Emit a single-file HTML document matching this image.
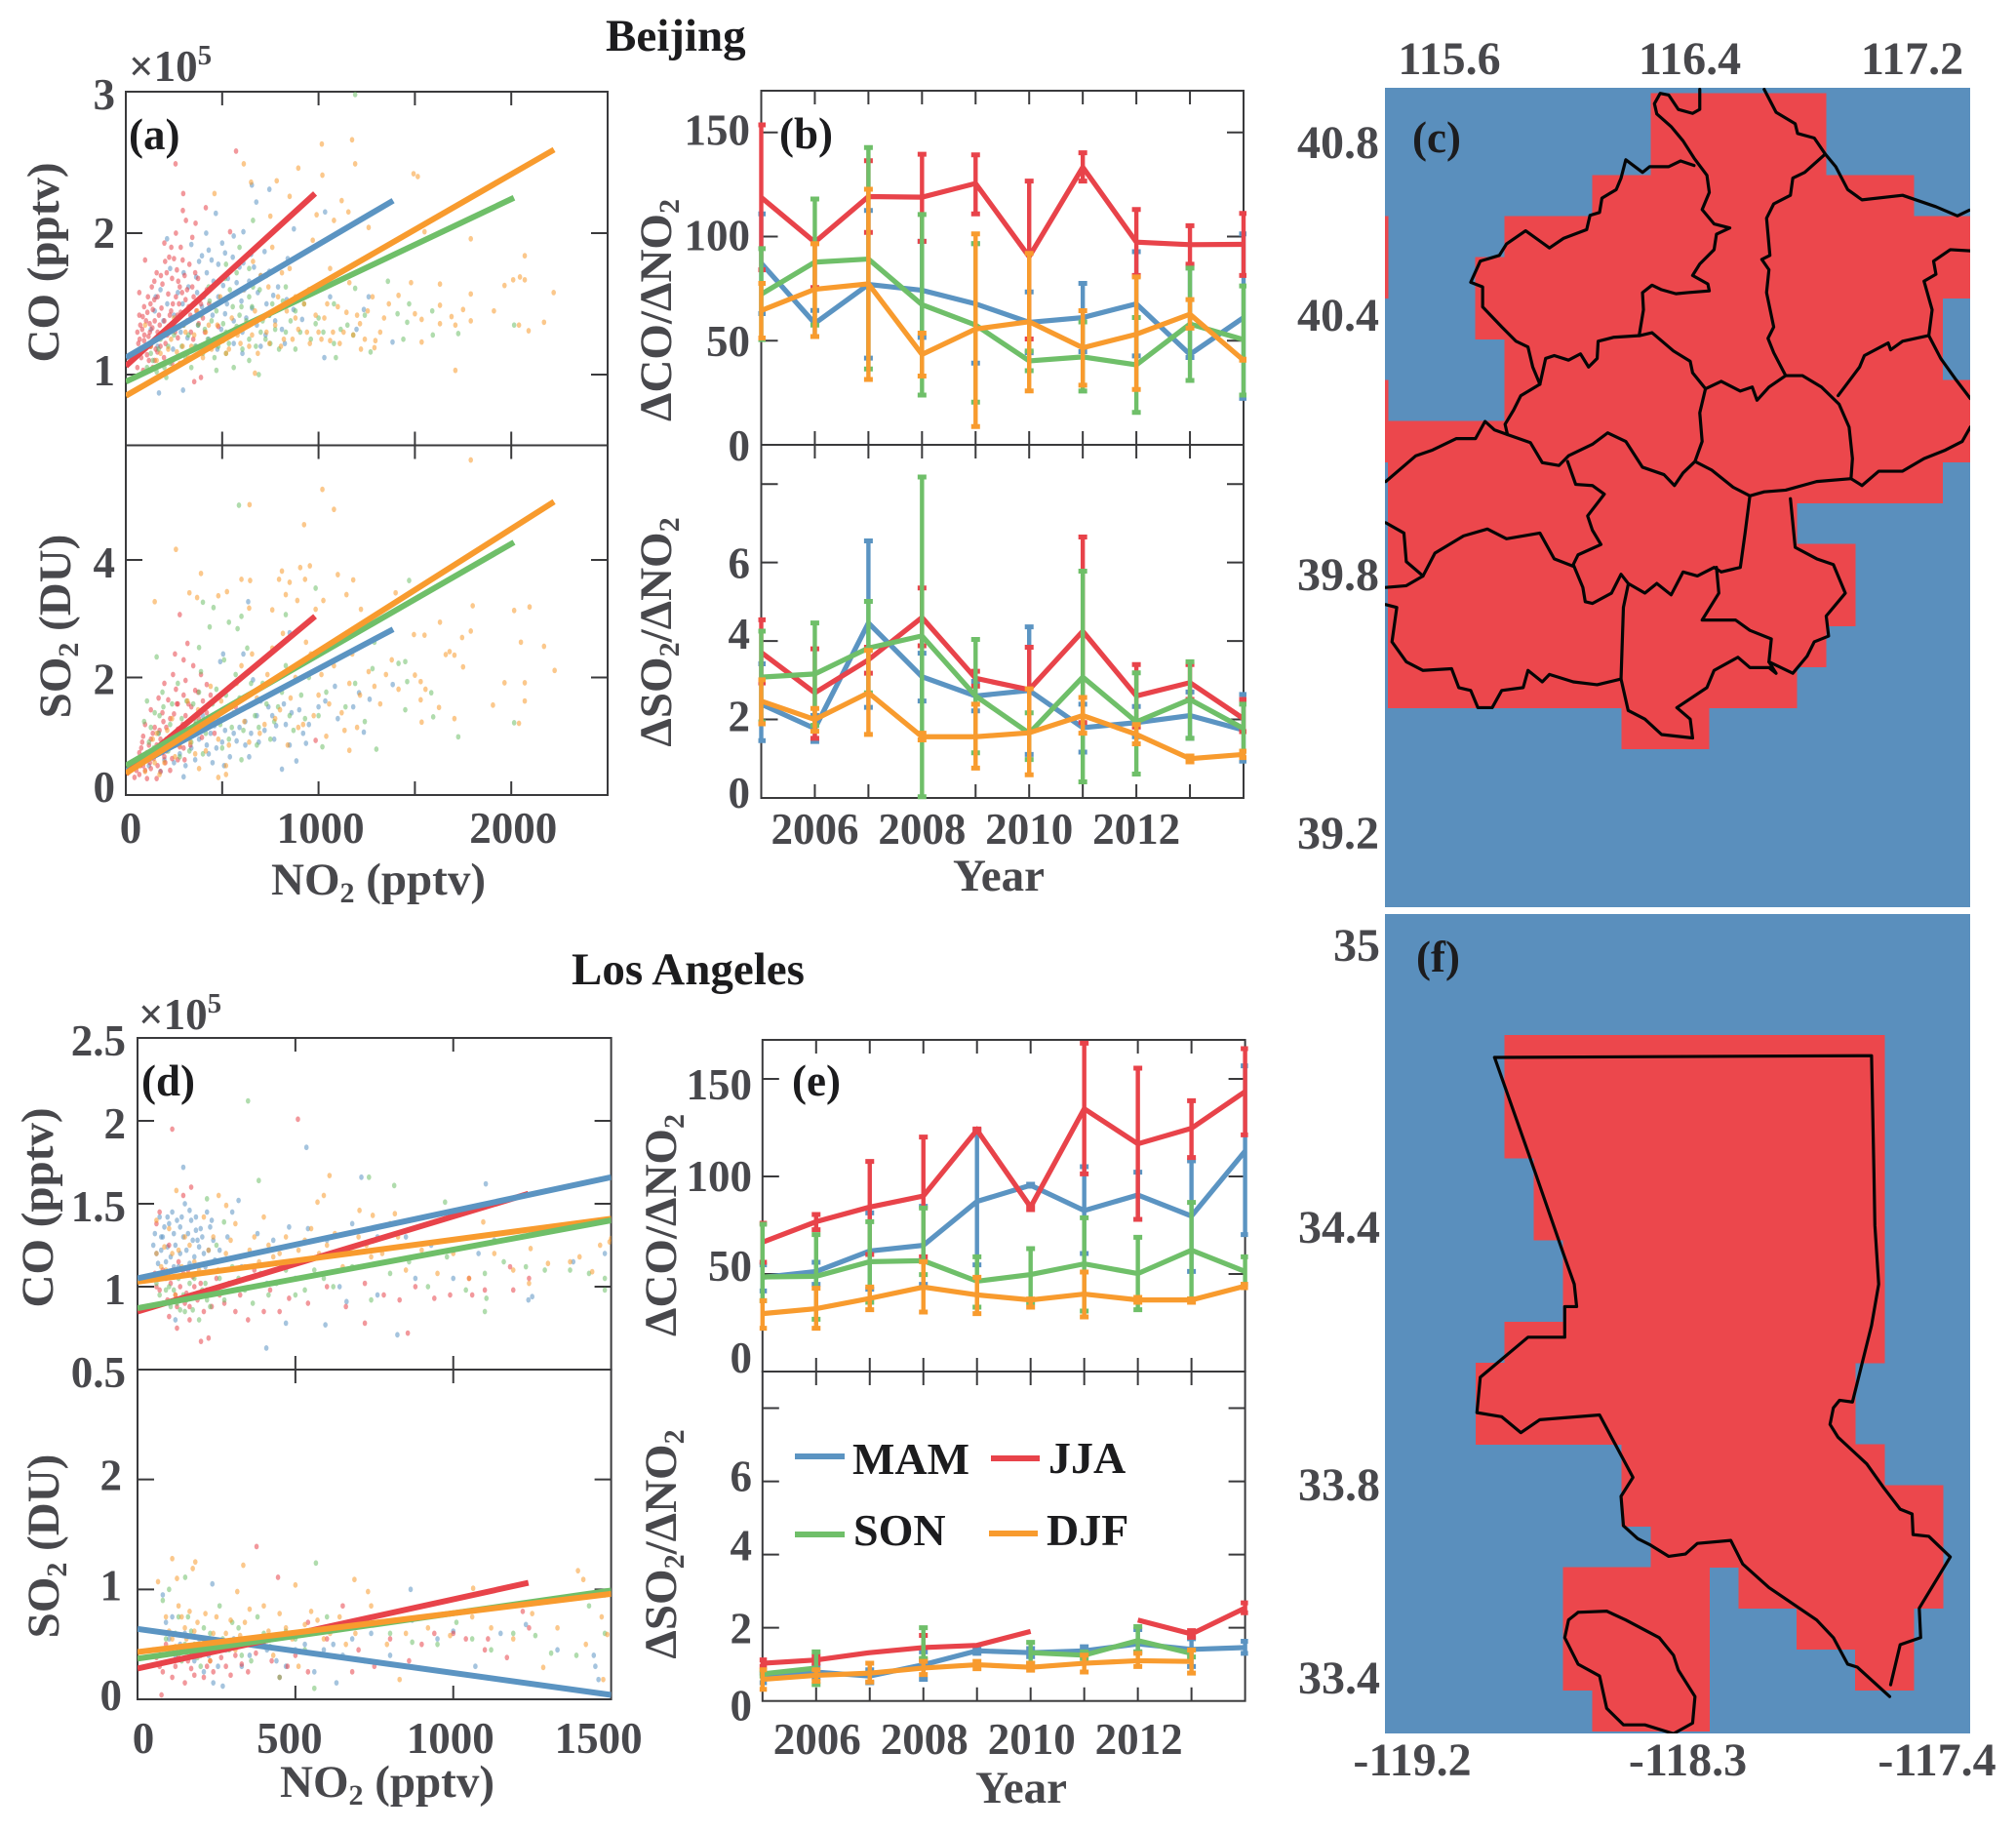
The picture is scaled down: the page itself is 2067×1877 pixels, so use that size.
<!DOCTYPE html>
<html lang="en">
<head>
<meta charset="utf-8">
<title>Beijing and Los Angeles trace gas ratios</title>
<style>
html,body{margin:0;padding:0;background:#fff;}
svg{display:block;}
text{font-family:"Liberation Serif",serif;font-weight:bold;}
.lab{font-size:47px;fill:#48484c;}
.tk{font-size:45px;fill:#48484c;}
.mk{font-size:48px;fill:#48484c;}
.ttl{font-size:47px;fill:#1c1c1e;}
.pl{font-size:45px;fill:#1c1c1e;}
.lg{font-size:46px;fill:#1c1c1e;}
</style>
</head>
<body>
<svg id="chart" xmlns="http://www.w3.org/2000/svg" width="2067" height="1877" viewBox="0 0 2067 1877">
<rect x="0" y="0" width="2067" height="1877" fill="#fff"/>
<g id="plots"></g>

<text class="ttl" x="621" y="52">Beijing</text>
<text class="ttl" x="586" y="1009">Los Angeles</text>

<text class="tk" x="132" y="83">×10<tspan font-size="29" dy="-17">5</tspan></text>
<text class="tk" x="142" y="1055">×10<tspan font-size="29" dy="-17">5</tspan></text>

<text class="pl" x="132" y="153">(a)</text>
<text class="pl" x="799" y="152">(b)</text>
<text class="pl" x="1448" y="156">(c)</text>
<text class="pl" x="145" y="1123">(d)</text>
<text class="pl" x="812" y="1123">(e)</text>
<text class="pl" x="1452" y="996">(f)</text>

<text class="lab" text-anchor="middle" transform="translate(60,269) rotate(-90)">CO (pptv)</text>
<text class="lab" text-anchor="middle" transform="translate(72,642) rotate(-90)">SO<tspan dy="8" font-size="30">2</tspan><tspan dy="-8"> (DU)</tspan></text>
<text class="lab" text-anchor="middle" x="388" y="917">NO<tspan dy="8" font-size="30">2</tspan><tspan dy="-8"> (pptv)</tspan></text>
<text class="lab" text-anchor="middle" transform="translate(688,318) rotate(-90)">ΔCO/ΔNO<tspan dy="8" font-size="30">2</tspan></text>
<text class="lab" text-anchor="middle" transform="translate(688,648) rotate(-90)">ΔSO<tspan dy="8" font-size="30">2</tspan><tspan dy="-8">/ΔNO</tspan><tspan dy="8" font-size="30">2</tspan></text>
<text class="lab" text-anchor="middle" x="1024" y="913">Year</text>

<text class="lab" text-anchor="middle" transform="translate(54,1238) rotate(-90)">CO (pptv)</text>
<text class="lab" text-anchor="middle" transform="translate(60,1585) rotate(-90)">SO<tspan dy="8" font-size="30">2</tspan><tspan dy="-8"> (DU)</tspan></text>
<text class="lab" text-anchor="middle" x="397" y="1842">NO<tspan dy="8" font-size="30">2</tspan><tspan dy="-8"> (pptv)</tspan></text>
<text class="lab" text-anchor="middle" transform="translate(693,1256) rotate(-90)">ΔCO/ΔNO<tspan dy="8" font-size="30">2</tspan></text>
<text class="lab" text-anchor="middle" transform="translate(693,1583) rotate(-90)">ΔSO<tspan dy="8" font-size="30">2</tspan><tspan dy="-8">/ΔNO</tspan><tspan dy="8" font-size="30">2</tspan></text>
<text class="lab" text-anchor="middle" x="1047" y="1848">Year</text>

<g id="legend">
<g><rect x="815" y="1490" width="51" height="6" fill="#5b94c2"/><text class="lg" x="874" y="1511">MAM</text></g>
<g><rect x="1016" y="1492" width="50" height="6" fill="#e8434a"/><text class="lg" x="1075" y="1510">JJA</text></g>
<g><rect x="815" y="1570" width="51" height="6" fill="#6fbf69"/><text class="lg" x="875" y="1584">SON</text></g>
<g><rect x="1014" y="1569" width="50" height="6" fill="#f89b2e"/><text class="lg" x="1073" y="1584">DJF</text></g>
</g>
</svg>
<script>
const seasons = ['MAM','JJA','SON','DJF'];
const seasonColors = ['#5b94c2','#e8434a','#6fbf69','#f89b2e'];
const years = [2005,2006,2007,2008,2009,2010,2011,2012,2013,2014];

/* ---------- scatter panels: flat x,y lists per season ---------- */
const aCoMam = [654,2.34,745,2.31,677,2.22,467,2.14,1034,2.15,872,2.03,610,2.01,417,2,214,1.96,1030,1.12,297,.89,172,.87,1384,1.23,1197,1.32,1235,1.46,1260,1.55,560,1.98,500,1.93,430,1.88,720,1.87,650,1.85,840,1.82,380,1.8,480,1.78,590,1.76,230,1.75,300,1.72,420,1.72,700,1.7,530,1.68,640,1.66,790,1.62,950,1.58,1060,1.55,180,1.6,270,1.58,370,1.58,480,1.55,600,1.52,730,1.5,870,1.46,150,1.45,250,1.42,340,1.4,450,1.42,560,1.38,680,1.35,810,1.32,200,1.28,320,1.26,430,1.25,560,1.22,700,1.2,130,1.32,
340,1.92,395,1.84,445,1.81,515,1.86,555,1.83,610,1.79,665,1.76,745,1.73,365,1.69,455,1.66,505,1.63,575,1.65,615,1.6,685,1.58,765,1.56,835,1.53,325,1.62,405,1.55,525,1.5,655,1.47,745,1.42,915,1.39,295,1.5,395,1.48,515,1.43,625,1.4,775,1.38,155,1.55,215,1.5,285,1.3,375,1.35,495,1.32,605,1.3,725,1.28,825,1.22,165,1.2,245,1.18,365,1.2,475,1.18,605,1.15,125,1.2,195,1.38];
const aCoJja = [572,2.58,258,2.49,298,2.28,415,2.18,296,2.16,312,2.09,362,2.07,260,2,541,2.01,345,1.97,200,1.93,285,1.9,100,1.81,225,1.83,250,1.82,295,1.81,330,1.78,160,1.72,265,1.74,240,1.68,305,1.7,375,1.68,135,1.62,190,1.64,280,1.62,345,1.62,420,1.6,70,1.58,115,1.55,165,1.55,220,1.57,260,1.55,310,1.53,390,1.5,455,1.48,95,1.48,140,1.46,185,1.47,235,1.45,285,1.44,335,1.42,400,1.4,70,1.42,105,1.38,150,1.38,200,1.38,250,1.36,300,1.35,480,1.34,60,1.3,85,1.32,125,1.3,165,1.3,215,1.28,270,1.26,350,1.25,65,1.22,95,1.24,130,1.2,180,1.2,55,1.15,80,1.12,110,1.14,150,1.1,240,1.08,60,1.05,90,1.03,355,.95,390,.98,
75,1.35,88,1.41,96,1.28,72,1.25,84,1.18,102,1.2,118,1.27,124,1.36,138,1.33,146,1.24,155,1.18,112,1.44,128,1.5,148,1.53,172,1.42,176,1.35,192,1.3,206,1.22,222,1.34,228,1.42,244,1.5,256,1.3,268,1.42,276,1.5,292,1.58,302,1.44,318,1.38,326,1.48,338,1.3,352,1.55,366,1.45,378,1.36,410,1.3,432,1.5,212,1.72,182,1.7,148,1.66,272,1.66,318,1.6,360,1.72,204,1.8,236,1.9,120,1.1,140,1.05,164,1.16,198,1.12];
const aCoSon = [1190,2.98,660,2.09,2015,1.35,1725,1.29,1593,1.28,1440,1.25,1590,1.45,1470,1.5,1410,1.43,1460,1.37,1190,1.61,1360,1.66,1090,1.12,1270,1.16,690,1,470,1.03,210,.98,590,1.9,520,1.78,640,1.75,730,1.7,830,1.62,950,1.6,1080,1.5,1240,1.42,1150,1.35,1000,1.4,880,1.45,760,1.5,640,1.55,540,1.6,430,1.62,350,1.5,470,1.45,590,1.42,710,1.38,830,1.3,960,1.25,1080,1.22,300,1.35,410,1.32,520,1.3,640,1.25,750,1.22,880,1.18,180,1.25,290,1.2,400,1.15,520,1.15,640,1.1,130,1.15,230,1.08,340,1.05,110,1.05,160,1.02,600,1.48,700,1.3,480,1.2,560,1.05,
140,1.1,170,1.18,200,1.05,220,1.2,250,1.28,265,1.12,310,1.12,325,1.28,360,1.2,375,1.35,390,1.42,425,1.25,445,1.38,460,1.12,495,1.52,505,1.36,535,1.22,555,1.48,575,1.34,605,1.18,625,1.38,655,1.48,675,1.2,695,1.6,725,1.25,745,1.42,775,1.32,795,1.18,815,1.52,855,1.38,905,1.3,925,1.5,985,1.36,1025,1.3,1115,1.32,1180,1.28,435,1.52,515,1.68,575,1.72,660,1.62];
const aCoDjf = [1174,2.66,1017,2.63,612,2.49,1190,2.49,895,2.46,1020,2.41,1493,2.42,1515,2.4,783,2.37,650,2.36,460,2.28,850,2.26,1120,2.23,1155,2.15,990,2.13,750,2.12,1080,2.09,1260,2.04,1550,2.01,1790,1.96,2070,1.84,1630,1.64,1480,1.65,1965,1.63,2010,1.67,2045,1.69,2070,1.67,2220,1.58,1790,1.57,1910,1.45,1750,1.46,1630,1.49,1690,1.41,1790,1.38,1710,1.35,1630,1.36,2170,1.37,2040,1.35,2090,1.31,1535,1.23,1710,1.03,1500,1.43,1535,1.39,1415,1.56,1365,1.5,1290,1.19,1220,1.18,670,1.01,100,1.35,130,1.2,160,1.1,190,1.28,220,1.18,250,1.4,280,1.08,310,1.3,340,1.2,370,1.45,400,1.12,430,1.35,460,1.25,490,1.55,520,1.15,550,1.4,580,1.28,610,1.6,640,1.2,670,1.45,700,1.7,730,1.3,760,1.9,790,1.55,820,1.25,850,1.75,880,1.4,910,1.85,940,1.3,970,1.95,1000,1.6,1030,1.4,1060,1.75,1100,1.48,1130,1.3,1160,1.65,1200,1.42,1240,1.25,1280,1.55,1320,1.3,
180,1.15,205,1.08,235,1.25,265,1.16,295,1.2,325,1.12,355,1.28,385,1.2,415,1.3,445,1.18,475,1.35,505,1.24,535,1.18,565,1.32,595,1.22,625,1.36,655,1.28,685,1.15,715,1.4,745,1.22,775,1.35,805,1.2,835,1.45,865,1.25,895,1.32,925,1.5,955,1.22,985,1.42,1015,1.25,1045,1.5,1075,1.3,1110,1.22,1145,1.44,1180,1.28,1215,1.36,1255,1.45,1295,1.24,1340,1.4,1060,1.24,1000,1.3,880,1.55,810,1.72,740,1.62,660,1.8];
const aSoMam = [635,3.29,850,2.76,610,2.4,505,2.4,490,2.27,660,1.96,1085,1.85,1210,1.74,1265,1.63,1035,1.6,1385,1.88,1235,1.07,810,.44,885,.58,935,.88,300,.31,550,1.5,480,1.3,620,1.25,700,1.6,760,1.35,830,1.2,560,1.05,440,1.05,380,.95,500,.9,620,.85,340,.8,430,.7,540,.65,280,.7,200,.6,160,.8,230,1,300,1.15,400,1.35,640,1.7,720,1.1,820,1.55,900,1.45,950,1.2,1000,1.5,1100,1.3,1180,1.5,120,.5,180,.4,
260,.85,310,.95,350,1.08,390,1.2,420,.85,460,1.18,515,1.1,470,.8,590,1.15,650,1.05,680,1.35,740,1.5,780,1.18,860,1.4,360,.6,450,.55,510,.5,575,.92,640,.65,690,.9,250,.55,310,.5,170,1.05,210,.8,130,.7,770,.95,850,.85,920,1.05];
const aSoJja = [280,3.07,320,2.58,255,2.4,300,2.3,350,2.2,245,2.05,390,2.05,310,1.95,200,1.9,420,1.88,260,1.8,360,1.78,300,1.7,170,1.65,220,1.62,400,1.6,270,1.55,340,1.5,130,1.45,190,1.4,250,1.38,310,1.35,380,1.3,100,1.2,150,1.15,210,1.15,270,1.12,340,1.05,90,1,130,.95,180,.95,240,.88,300,.8,80,.8,110,.72,150,.7,200,.65,270,.6,60,.6,90,.5,130,.45,180,.4,70,.35,45,.3,110,.28,210,.75,570,1.5,480,1.25,985,.93,
70,.72,85,.9,95,.62,100,.42,120,.85,125,.55,140,1.05,145,.62,160,.85,165,.5,175,1.1,190,.72,195,1.25,205,.55,220,.9,230,1.3,240,.62,255,1.05,265,1.55,280,.82,295,1.2,305,.6,325,1.55,335,.85,360,1.2,375,1.75,395,.98,420,1.4,440,1.7,460,1.05,75,.5,55,.42,160,.28,230,.42];
const aSoSon = [587,4.93,1470,3.65,985,3.52,455,3.19,400,3.28,830,3.07,600,3.04,535,2.94,435,2.86,580,2.83,1290,2.6,160,2.35,380,2.51,1415,2.24,1450,2.27,1585,1.74,1460,1.93,1595,1.33,1725,.99,2015,1.23,1450,1.45,1300,.78,1020,.82,110,1.6,150,1.4,190,1.75,230,1.2,270,1.9,310,1.05,350,1.55,390,2.1,430,1.3,470,1.8,510,2.3,550,1.15,590,1.65,630,2.5,670,1.35,710,1.9,750,.95,790,1.5,830,2.2,870,1.1,910,1.7,950,2,1000,1.35,1040,1.75,1090,2.3,1140,1.5,1190,1.9,1240,1.25,1280,2.15,120,.9,170,1.05,220,.75,280,.65,340,.9,400,.7,500,.8,600,.6,680,.85,
95,1.25,130,1.15,145,.8,175,1.35,195,1.5,210,.95,240,1.55,255,.85,290,1.3,315,1.6,330,.75,365,1.25,380,1.75,415,1.05,450,1.55,490,1.2,520,1.7,535,.95,570,2.05,610,1.1,650,1.9,690,1.15,730,1.55,770,1.25,810,1.75,850,1.35,890,1.95,930,1.3];
const aSoDjf = [1790,5.7,1020,5.2,1080,4.86,925,4.6,642,4.94,260,4.18,390,3.77,810,3.81,905,3.87,955,3.9,600,3.67,645,3.65,795,3.67,930,3.67,1100,3.75,1180,3.66,850,3.62,330,3.44,525,3.46,370,3.36,480,3.39,150,3.29,1145,3.41,1400,3.44,830,3.41,890,3.31,985,3.16,1025,3.31,640,3.18,760,3.15,1220,3.16,1800,3.22,2015,3.14,2095,3.2,1630,2.94,2050,2.6,2170,2.53,1790,2.79,1745,2.68,1550,2.72,1495,2.73,1680,2.44,1660,2.39,1705,2.38,1750,2.18,2225,2.12,2070,1.91,1965,1.91,1905,1.53,2070,1.6,2040,1.22,1705,1.3,1535,1.24,1625,1.49,1500,2.04,1530,1.93,1555,1.8,1530,1.62,1415,1.8,1160,.76,120,.7,160,1.05,200,.55,240,1.3,280,.85,320,1.6,360,.7,400,1.15,440,1.85,480,.95,520,.5,560,1.4,600,2.2,640,.9,680,1.65,720,1.2,760,2.5,800,1.45,840,.85,880,2,920,1.2,960,2.4,1000,1.7,1040,1,1080,2.2,1120,1.4,1160,1.9,1200,1.15,1260,2.1,1320,1.55,1380,2.3,380,.45,480,.3,520,.35,
140,.95,180,.75,215,1.1,255,.65,295,1.05,335,.9,375,1.45,415,.75,455,1.25,495,1.6,535,.85,575,1.9,615,1.25,655,2.4,695,1.05,735,2.05,775,1.3,815,2.75,855,1.65,895,1.15,935,2.6,975,1.35,1015,2.05,1055,1.55,1095,2.65,1135,1.1,1175,2.4,1215,1.7,1290,1.85,1350,2.05,150,.55,175,.35,100,.4];
const dCoMam = [535,1.84,145,1.72,709,1.66,1103,1.62,408,.63,823,.71,595,.77,1238,.92,1250,.94,662,.91,470,.78,60,1.2,80,1.3,100,1.38,120,1.25,140,1.42,160,1.32,180,1.18,200,1.35,220,1.45,240,1.28,90,1.15,110,1.45,130,1.12,150,1.5,170,1.4,190,1.28,210,1.2,70,1.42,50,1.25,230,1.36,260,1.22,300,1.45,320,1.52,380,1.32,430,1.28,480,1.36,540,1.35,600,1.28,680,1.38,760,1.3,850,1.3,930,1.25,1000,1.22,1080,1.2,1130,1.28,330,1.12,410,1.02,500,1.05,640,1,760,.95,880,1.05,1000,1.05,1380,1.15,1480,1.2,60,1.05,100,.9,120,.8,
55,1.32,65,1.14,75,1.22,85,1.36,95,1.24,105,1.18,115,1.32,125,1.4,135,1.2,145,1.3,155,1.22,165,1.14,175,1.28,185,1.42,195,1.24,205,1.3,215,1.12,225,1.22,235,1.4,95,1.42,75,1.3,135,1.36,165,1.46,185,1.34,245,1.16,285,1.3,115,1.12];
const dCoJja = [508,2.01,110,1.95,170,1.6,145,1.55,70,1.45,60,1.38,100,1.25,130,1.15,160,1.1,60,1,90,1.05,120,.95,150,.9,180,1,210,.85,100,.82,125,.75,165,.8,201,.67,225,.69,856,.72,260,.95,290,1.02,310,.85,350,.8,370,1.1,420,.98,480,.93,540,.9,600,1,660,.88,720,1.02,780,.95,830,.92,880,1,940,.93,990,.95,1050,1.05,1100,.98,1190,.98,1240,1.05,1180,1.12,1060,.95,720,.78,400,.85,
55,1.08,70,.98,80,1.1,95,.92,105,1.02,115,1.1,125,.88,135,1,145,1.08,155,.96,165,.88,175,1.06,190,.92,200,1.02,220,.98,235,.88,250,1.05,275,.9,325,.95,450,.85];
const dCoSon = [350,2.12,384,1.64,733,1.66,813,1.61,974,1.51,274,1.39,220,1.53,100,1,125,.9,150,.85,170,.95,195,.8,220,.92,80,.9,60,1.02,260,1.05,300,1.12,340,.98,390,1.08,440,1.02,500,.95,560,1.1,620,1,680,1.12,740,.92,800,1.08,860,1.15,920,1,980,1.18,1040,.98,1100,1.08,1160,1.15,1230,1.12,1290,1.1,1370,1.1,1430,1.08,1480,1.05,1480,.98,1100,.85,1105,.93,250,1.25,130,1.05,180,1.05,
70,.95,90,.98,105,.88,115,.98,135,.86,145,.95,155,.92,165,1.02,175,.86,185,.95,205,.98,215,1.02,230,.88,245,.98,275,.92,320,1.05,365,.9,415,.95,470,1.1,530,.98,590,1.05];
const dCoDjf = [123,1.58,257,1.55,281,1.49,608,1.67,590,1.55,703,1.46,745,1.43,815,1.44,570,1.51,1095,1.39,1245,1.23,1300,1.14,1370,1.15,1400,1.18,1465,1.25,1495,1.27,1500,1.29,1440,1.09,60,1.4,150,1.3,180,1.15,210,1.42,240,1.3,280,1.2,310,1.38,340,1.12,370,1.3,400,1.42,430,1.18,470,1.3,510,1.22,550,1.35,600,1.25,650,1.12,700,1.3,740,1.18,800,1.38,850,1.1,900,1.22,950,1.08,1000,1.2,1050,1.05,1130,1.2,1190,1.1,1240,1.02,60,1.2,90,1.1,130,1.22,100,1.35,120,.95,
75,1.12,85,1.24,110,1.2,140,1.12,165,1.25,195,1.1,225,1.22,255,1.1,295,1.28,325,1.18,355,1.22,385,1.15,415,1.25,450,1.2,490,1.15,530,1.28,575,1.2,625,1.32,675,1.2,725,1.25,775,1.2,825,1.3,875,1.18];
const dSoMam = [237,1.05,865,1,80,.95,90,.7,100,.55,120,.4,150,.6,180,.35,210,.25,240,.15,280,.45,330,.3,380,.55,440,.35,500,.45,560,.25,620,.5,680,.55,740,.6,800,.4,870,.72,950,.55,1000,.62,1070,.3,1150,.6,1230,.68,1330,.45,1445,.4,1450,.3,1460,.18,270,.12,630,.15,
70,.45,110,.75,135,.5,165,.45,195,.55,225,.4,255,.3,305,.55,355,.4,410,.45,470,.3,530,.5,590,.45,650,.4];
const dSoJja = [377,1.39,445,1.11,50,.45,70,.3,90,.5,110,.2,130,.38,150,.15,170,.28,190,.42,210,.2,230,.35,250,.45,280,.3,310,.4,350,.25,400,.5,450,.2,500,.4,540,.7,600,.55,650,.85,700,.45,750,.3,800,.55,860,.35,900,.5,940,.6,1000,.6,1040,.55,1100,.45,1170,.38,1220,.8,1240,.65,1110,.55,76,.04,540,.25,680,.25,
60,.38,80,.25,100,.42,120,.3,140,.45,160,.35,180,.22,200,.4,220,.3,240,.25,265,.38,295,.22,330,.32,375,.42,425,.35,475,.3];
const dSoSon = [565,1.24,151,1.11,80,.9,100,1,120,.6,140,.35,160,.75,180,.5,200,.3,230,.6,260,.85,290,.45,320,.65,360,.35,400,.6,450,.2,500,.55,560,.1,600,.75,660,.65,720,.35,800,.6,870,.52,950,.5,1010,.7,1060,.55,1120,.45,1190,.6,1260,.58,1310,.42,1390,.4,1430,.85,1480,.6,1480,.95,
90,.55,110,.42,130,.75,150,.5,170,.62,190,.38,210,.65,240,.48,270,.55,300,.7,330,.4,380,.75,420,.48,470,.62,530,.45];
const dSoDjf = [110,1.28,183,1.25,335,1.22,175,1.19,125,1.1,65,1.07,316,.98,500,1.04,687,1.09,730,.98,1063,1.01,1395,1.17,1412,1.09,1475,.18,1285,.29,830,.18,1488,.59,90,.75,110,.55,130,.85,150,.65,170,.4,190,.7,210,.55,230,.35,250,.75,280,.6,310,.45,340,.7,370,.55,400,.85,430,.4,470,.65,510,.3,550,.8,590,.55,640,.75,690,.6,740,.85,790,.5,850,.6,920,.65,990,.58,1060,.75,1120,.65,1190,.55,1250,.78,1330,.65,1420,.5,1470,.75,
100,.62,120,.48,140,.75,155,.55,165,.8,180,.62,200,.48,215,.78,240,.6,260,.5,295,.72,325,.58,355,.82,385,.5,415,.62,450,.78,490,.55,530,.68,570,.72,610,.6,660,.5];

/* ---------- regression lines: value at x=0, end x, value at end x ---------- */
const aFitXEnd = [1387,982,2014,2222];
const aCoFitStart = [1.12,1.06,.95,.85];
const aCoFitEnd = [2.23,2.28,2.25,2.59];
const aSoFitStart = [.41,.36,.5,.37];
const aSoFitEnd = [2.82,3.04,4.3,4.99];
const dFitXEnd = [1500,1238,1500,1500];
const dCoFitStart = [1.05,.85,.87,1.03];
const dCoFitEnd = [1.66,1.56,1.4,1.41];
const dSoFitStart = [.64,.28,.37,.43];
const dSoFitEnd = [.04,1.06,.99,.96];

/* ---------- yearly ratios (one row per season) ---------- */
const bCoMean = [[87.2,58.3,77,74.2,67.7,58.8,61.1,67.7,43.4,61.1],[118.75,97.3,119.2,118.9,125.5,90.3,133.3,97.3,96.1,96.25],[72.3,87.7,89.2,67.3,57.5,40.3,42.2,38.4,58,50.5],[64.5,74.7,77.3,43.4,55.6,59.1,46.6,53.1,62.7,40.6]];
const bCoHigh = [[110.9,64.5,112.5,97.7,96.6,73.4,77.5,92.7,85.6,101.3],[153.6,96.6,136.4,139.5,139.2,126.6,140.2,113,105.2,111.1],[94.2,118,142.7,110.6,96.6,45,59,61.1,84.8,76.3],[77.5,96.6,122.7,53.6,101.3,91.9,64.4,80.6,69.7,41.1]];
const bCoLow = [[63,52,41.6,51.6,39.2,44.2,44.7,42.7,41.9,22.3],[84,75.5,102,97.7,110.9,50.8,126.6,81.3,86.7,81.3],[50.5,57.5,36.4,23.9,20.5,35.6,25.8,15.6,30.9,23.9],[51.3,52,31.4,33,8.8,25.9,28.6,26.6,56,40.6]];
const bSoMean = [[2.39,1.77,4.46,3.09,2.6,2.74,1.79,1.92,2.1,1.73],[3.71,2.68,3.52,4.6,3.05,2.76,4.25,2.6,2.94,2.02],[3.08,3.16,3.82,4.13,2.6,1.65,3.08,1.94,2.51,1.77],[2.47,2,2.68,1.56,1.56,1.66,2.1,1.62,1,1.11]];
const bSoHigh = [[3.42,2.1,6.55,3.69,2.97,4.36,2.39,2.33,2.7,2.64],[4.54,3.8,3.84,5.35,3.23,3.84,6.65,3.4,3.4,2.51],[4.25,4.46,5.01,8.18,4.04,2.17,5.78,3.19,3.47,2.39],[3.01,2.28,3.76,1.65,2.39,2.78,2.56,1.87,1.07,1.19]];
const bSoLow = [[1.46,1.44,2.31,2.47,2.22,1.11,1.17,1.56,1.52,.94],[2.93,1.52,3.18,3.88,2.85,1.69,1.92,1.81,2.51,1.69],[1.94,1.85,2.68,.03,1.15,.98,.41,.61,1.52,1.19],[1.89,1.7,1.62,1.48,.76,.59,1.65,1.38,.92,1.03]];
const eCoMean = [[48.3,51.3,61.8,64.7,87.2,95.5,82.5,90.5,79.7,113],[66.3,76.8,84.3,90,123.8,84.3,134.7,116.7,124.7,143.5],[48.5,48.8,56.3,56.8,46.3,49.7,55.2,50.2,62.2,51.3],[29.7,32.2,37.5,43.3,39.3,36.7,39.7,36.7,36.7,43.8]];
const eCoHigh = [[54.7,56,81.3,84.7,123.8,96,105,102.2,108,156.7],[76,80.5,107.7,120.2,124.3,85.5,168.3,155.5,138.8,165.5],[75.5,70.2,76.8,83.8,58.8,63,78.8,68.8,86.7,58.8],[36.3,42.7,43.3,56.3,48.3,37.2,51,38,37.2,44.7]];
const eCoLow = [[41.3,44.7,42.2,44.7,54.7,95,60.5,78,51.3,70.2],[56,72.7,60,58.8,123,83,101.3,78,109.7,121.3],[36.3,26.8,35.5,49.7,33,35.5,31,31.7,37.2,44.7],[22.2,22.2,31.7,30.5,29.7,33,28,35.5,35.5,43]];
const eSoMean = [[.63,.79,.68,.99,1.37,1.32,1.37,1.56,1.41,1.46],[1.03,1.12,1.32,1.46,1.52,1.9,null,2.21,1.83,2.54],[.74,.9,null,1.43,null,1.32,1.25,1.65,1.3,null],[.59,.7,.76,.9,.99,.92,1.03,1.1,1.08,null]];
const eSoHigh = [[.76,.94,.85,1.34,1.43,1.43,1.48,1.95,1.7,1.63],[1.12,1.22,null,1.79,null,null,null,null,1.92,2.68],[.82,1.34,null,2,null,1.6,1.34,2.03,1.39,null],[.85,.85,1.03,1.08,1.08,1.03,1.25,1.3,1.39,null]];
const eSoLow = [[.5,.63,.5,.59,1.3,1.21,1.25,1.34,.94,1.3],[.94,1.03,null,1.12,null,null,null,null,1.74,2.41],[.68,.45,null,1.16,null,1.03,1.16,1.34,1.2,null],[.32,.54,.52,.72,.88,.84,.79,.94,.76,null]];

/* ---------- tick labels ---------- */
const aCoTicks = [1,2,3];
const aSoTicks = [0,2,4];
const aXTicks = [500,1000,1500,2000];
const aXLabels = [0,1000,2000];
const ratioCoTicks = [0,50,100,150];
const ratioSoTicks = [0,2,4,6,8];
const ratioSoLabels = [0,2,4,6];
const yearTicks = [2006,2007,2008,2009,2010,2011,2012,2013];
const yearLabels = [2006,2008,2010,2012];
const dCoTicks = [.5,1,1.5,2,2.5];
const dCoLabels = ['0.5','1','1.5','2','2.5'];
const dSoTicks = [0,1,2];
const dXTicks = [500,1000];
const dXLabels = [0,500,1000,1500];
const cTopLabels = ['115.6','116.4','117.2'];
const cLeftLabels = ['40.8','40.4','39.8','39.2'];
const fLeftLabels = ['35','34.4','33.8','33.4'];
const fBottomLabels = ['-119.2','-118.3','-117.4'];

/* ---------- map grids: # = inside the city mask ---------- */
const cGridRows = [
"..........######.....",
"..........######.....",
"........###########..",
"#....################",
"#...#################",
"....################.",
".....###############.",
"#....################",
"#####################",
".###################.",
".##############......",
".################....",
".################....",
".###############.....",
".##############......",
".........###........."];
const fGridRows = [
".#############..",
".#############..",
".#############..",
"..############..",
"..############..",
"...###########..",
"...###########..",
".#############..",
"#############...",
"#############...",
".....#########..",
".....###########",
"......##########",
"...#####.#######",
"...#####...####.",
"...#####.....##.",
"....####........"];

/* ---------- map outlines, traced in image units ---------- */
const cBorderTraces = [
[905,105,905,140,890,147,860,140,840,115,822,112,810,130,815,148,845,170,870,195,893,225,920,255,925,285,910,315,935,340,968,347,940,358,935,385,905,410,890,430,922,445,925,457,880,460,855,462,825,455,805,447,785,460,787,490,778,535],
[893,238,865,230,840,240,800,240,785,250,750,228,740,260,730,280,700,295,695,320,675,325,668,350,620,365,590,382,570,370,540,352,500,375,485,395,445,405,425,442,450,450,450,485,490,520,520,545,545,555,555,590,570,620],
[570,620,582,575,600,570,630,578,655,567,672,590,690,575,692,545,725,538,780,535,805,530,850,562,885,580,890,600,917,628,950,615,990,632,1015,625,1025,648,1050,625,1085,605,1120,605,1160,625,1197,655,1218,695,1225,750,1222,785,1245,797,1280,772,1330,772,1375,750,1420,735,1455,720,1472,695],
[1085,605,1060,565,1048,540,1060,520,1045,460,1050,420,1035,402,1052,395,1045,330,1060,305,1095,290,1100,260,1125,250,1168,218,1190,240,1215,280,1245,298,1330,290,1400,310,1445,326,1470,316],
[1040,105,1065,145,1105,165,1110,182,1145,190,1168,218],
[1195,640,1240,590,1250,570,1300,548,1305,560,1330,545,1385,535,1410,575,1440,610,1472,645],
[1385,535,1392,490,1375,440,1400,428,1395,405,1430,385,1472,387],
[570,620,530,640,515,665,497,690,502,708,550,722,575,757,610,762,630,745,680,725,712,705,750,720,785,765,830,778,852,797,870,775,895,755,910,720,905,670,917,628],
[895,755,930,770,975,800,1010,815,1040,808,1085,805,1150,790,1222,785],
[247,790,310,745,345,735,395,715,435,715,455,685,475,700,502,708],
[628,755,645,795,680,797,705,812,670,850,680,875,698,900,650,918,640,935,660,975,665,1000,680,1003,720,985,740,952,755,968,790,985,815,968,845,988,870,948,900,955,935,940,950,948,990,940,1000,880,1010,815],
[247,862,285,880,290,930,325,955,350,915,410,885,460,873,500,890,570,880,600,925,640,938],
[247,975,290,972,325,955],
[247,1005,270,1010,260,1070,290,1105,325,1120,385,1117,400,1150,425,1155,440,1185,470,1185,490,1155,535,1150,545,1120,575,1140,590,1127,640,1140,690,1145,740,1135,745,1010,755,970],
[740,1135,755,1190,790,1205,825,1232,890,1238,885,1205,857,1185,920,1150,935,1120,985,1097,1010,1115,1050,1115,1065,1125,1050,1105,1100,1125,1130,1095,1145,1070,1175,1060,1170,1025,1210,985,1185,935,1150,925,1105,905,1095,820],
[1050,1105,1055,1065,1010,1050,980,1032,910,1032,945,985,940,940]];
const fBorderTraces = [
[475,255,1265,252,1270,450,1272,540,1280,640,1265,710,1225,840,1198,837,1185,850,1178,878,1195,900,1255,945,1290,985,1325,1022,1350,1030,1352,1065,1385,1068,1430,1103,1365,1190,1368,1240,1325,1252,1305,1320],
[475,255,560,450,620,590,642,640,647,678,622,678,622,730,545,730,445,798,438,858,490,865,530,892,570,870,695,862,730,915,765,968,740,1000,745,1050,775,1072,800,1082,840,1102,875,1098,900,1080,970,1075,995,1115,1050,1155,1150,1210,1185,1240,1215,1285,1235,1290,1303,1340],
[650,1197,710,1195,750,1210,820,1240,850,1270,860,1295,895,1340,890,1385,850,1403,790,1388,745,1388,710,1360,695,1305,650,1285,622,1240,630,1210,650,1197]];

/* ---------- helpers ---------- */
const NS = 'http://www.w3.org/2000/svg';
const root = document.getElementById('plots');
let clipCount = 0;
function mk(tag, attrs, parent) {
  const el = document.createElementNS(NS, tag);
  for (const k in attrs) el.setAttribute(k, attrs[k]);
  (parent || root).appendChild(el);
  return el;
}
function linear(d0, d1, r0, r1) { return v => r0 + (v - d0) * (r1 - r0) / (d1 - d0); }
function makeClip(x, y, w, h) {
  const id = 'clip' + (clipCount++);
  const cp = mk('clipPath', {id: id});
  mk('rect', {x: x, y: y, width: w, height: h}, cp);
  return id;
}
const AXIS = '#3a3a3c';

function drawFrame(name, f, sx, sy, xTicks, yTicks) {
  const g = mk('g', {stroke: AXIS, 'stroke-width': 2, fill: 'none'});
  
  
  mk('rect', {x: f.L, y: f.T, width: f.R - f.L, height: f.B - f.T}, g);
  xTicks.forEach(t => {
    const x = sx(t);
    mk('path', {d: 'M' + x + ' ' + f.B + 'V' + (f.B - 14) + 'M' + x + ' ' + f.T + 'V' + (f.T + 14)}, g);
  });
  yTicks.forEach(t => {
    const y = sy(t);
    if (y <= f.T + 1 || y >= f.B - 1) return;
    mk('path', {d: 'M' + f.L + ' ' + y + 'H' + (f.L + 17) + 'M' + f.R + ' ' + y + 'H' + (f.R - 17)}, g);
  });
}
function tickText(str, x, y, anchor, name, cls) {
  const t = mk('text', {x: x, y: y, 'text-anchor': anchor, class: cls || 'tk'});
  t.textContent = str;
  
  
}
function drawScatter(name, f, sx, sy, lists, clip) {
  const wrap = mk('g', {'clip-path': 'url(#' + clip + ')'});
  
  
  lists.forEach((pts, s) => {
    const g = mk('g', {fill: seasonColors[s], 'fill-opacity': .55}, wrap);
    
    
    for (let i = 0; i + 1 < pts.length; i += 2) {
      mk('ellipse', {cx: sx(pts[i]), cy: sy(pts[i + 1]), rx: 2.3, ry: 2.9}, g);
    }
  });
}
function drawFits(name, sx, sy, xEnd, start, end, order, clip) {
  const wrap = mk('g', {'clip-path': 'url(#' + clip + ')'});
  
  
  order.forEach(s => {
    const l = mk('line', {x1: sx(0), y1: sy(start[s]), x2: sx(xEnd[s]), y2: sy(end[s]), stroke: seasonColors[s], 'stroke-width': 6}, wrap);
    
    
  });
}
function drawSeries(name, f, sx, sy, mean, high, low) {
  const clip = makeClip(f.L - 3, f.T, f.R - f.L + 6, f.B - f.T + 2);
  const wrap = mk('g', {'clip-path': 'url(#' + clip + ')'});
  
  
  seasons.forEach((sn, s) => {
    const g = mk('g', {stroke: seasonColors[s], fill: 'none'}, wrap);
    
    
    years.forEach((yr, i) => {
      if (high[s][i] === null || low[s][i] === null) return;
      const x = sx(yr), yh = sy(high[s][i]), yl = sy(low[s][i]);
      const stem = mk('path', {d: 'M' + x + ' ' + yh + 'V' + yl, 'stroke-width': 4.4}, g);
      
      
      const caps = mk('path', {d: 'M' + (x - 4.5) + ' ' + yh + 'H' + (x + 4.5) + 'M' + (x - 4.5) + ' ' + yl + 'H' + (x + 4.5), 'stroke-width': 5}, g);
      
      
    });
    let d = '', pen = false;
    years.forEach((yr, i) => {
      const v = mean[s][i];
      if (v === null) { pen = false; return; }
      d += (pen ? 'L' : 'M') + sx(yr) + ' ' + sy(v);
      pen = true;
    });
    const line = mk('path', {d: d, 'stroke-width': 5.2, 'stroke-linejoin': 'miter'}, g);
    
    
  });
}
function scatterPanel(name, f, xMax, yMin, yMax, xTicks, yTicks, lists, xEnd, fs, fe, order) {
  const sx = linear(0, xMax, f.L, f.R), sy = linear(yMin, yMax, f.B, f.T);
  const clip = makeClip(f.L, f.T, f.R - f.L, f.B - f.T);
  drawFrame(name, f, sx, sy, xTicks, yTicks);
  drawScatter(name, f, sx, sy, lists, clip);
  drawFits(name, sx, sy, xEnd, fs, fe, order, clip);
  return {sx: sx, sy: sy};
}
function yearPanel(name, f, yMax, yTicks, mean, high, low) {
  const sx = linear(2005, 2014, f.L, f.R), sy = linear(0, yMax, f.B, f.T);
  drawFrame(name, f, sx, sy, yearTicks, yTicks);
  drawSeries(name, f, sx, sy, mean, high, low);
  return {sx: sx, sy: sy};
}

/* ---------- panel (a) ---------- */
const fA1 = {L:129,R:623,T:94,B:456.5};
const fA2 = {L:129,R:623,T:456.5,B:815};
const fitOrderA = [1,0,2,3];
const a1 = scatterPanel('panel-a-co', fA1, 2500, .5, 3, aXTicks, aCoTicks, [aCoMam,aCoJja,aCoSon,aCoDjf], aFitXEnd, aCoFitStart, aCoFitEnd, fitOrderA);
const a2 = scatterPanel('panel-a-so2', fA2, 2500, 0, 5.95, aXTicks, aSoTicks, [aSoMam,aSoJja,aSoSon,aSoDjf], aFitXEnd, aSoFitStart, aSoFitEnd, [0,1,2,3]);
const aCoDy = [11,15,18];
aCoTicks.forEach((t, i) => tickText(String(t), 118, a1.sy(t) + aCoDy[i], 'end', 'y-tick-label-a-co-' + t));
const aSoDy = [7,17,18];
aSoTicks.forEach((t, i) => tickText(String(t), 118, a2.sy(t) + aSoDy[i], 'end', 'y-tick-label-a-so2-' + t));
const aXDx = [5,2,2];
aXLabels.forEach((t, i) => tickText(String(t), a2.sx(t) + aXDx[i], 864, 'middle', 'x-tick-label-a-' + t));

/* ---------- panel (b) ---------- */
const fB1 = {L:780.5,R:1275,T:93,B:456};
const fB2 = {L:780.5,R:1275,T:456,B:818};
const b1 = yearPanel('panel-b-co', fB1, 170, ratioCoTicks, bCoMean, bCoHigh, bCoLow);
const b2 = yearPanel('panel-b-so2', fB2, 9, ratioSoTicks, bSoMean, bSoHigh, bSoLow);
const bCoDy = [16,16,14,13];
ratioCoTicks.forEach((t, i) => tickText(String(t), 769, b1.sy(t) + bCoDy[i], 'end', 'y-tick-label-b-co-' + t));
const bSoDy = [10,12,8,16];
ratioSoLabels.forEach((t, i) => tickText(String(t), 769, b2.sy(t) + bSoDy[i], 'end', 'y-tick-label-b-so2-' + t));
yearLabels.forEach(t => tickText(String(t), b2.sx(t), 865, 'middle', 'x-tick-label-b-' + t));

/* ---------- panel (d) ---------- */
const fD1 = {L:141,R:626.6,T:1064,B:1404};
const fD2 = {L:141,R:626.6,T:1404,B:1742};
const d1 = scatterPanel('panel-d-co', fD1, 1500, .5, 2.5, dXTicks, dCoTicks, [dCoMam,dCoJja,dCoSon,dCoDjf], dFitXEnd, dCoFitStart, dCoFitEnd, [1,3,0,2]);
const d2 = scatterPanel('panel-d-so2', fD2, 1500, 0, 3, dXTicks, dSoTicks, [dSoMam,dSoJja,dSoSon,dSoDjf], dFitXEnd, dSoFitStart, dSoFitEnd, [0,1,2,3]);
dCoLabels.forEach((t, i) => tickText(t, 129, d1.sy(dCoTicks[i]) + 18, 'end', 'y-tick-label-d-co-' + t));
dSoTicks.forEach(t => tickText(String(t), 125, d2.sy(t) + 11, 'end', 'y-tick-label-d-so2-' + t));
const dXDx = [6,-6,-3,-13];
dXLabels.forEach((t, i) => tickText(String(t), d2.sx(t) + dXDx[i], 1797, 'middle', 'x-tick-label-d-' + t));

/* ---------- panel (e) ---------- */
const fE1 = {L:781.8,R:1276.6,T:1066,B:1406};
const fE2 = {L:781.8,R:1276.6,T:1406,B:1743.7};
const e1 = yearPanel('panel-e-co', fE1, 170, ratioCoTicks, eCoMean, eCoHigh, eCoLow);
const e2 = yearPanel('panel-e-so2', fE2, 9, ratioSoTicks, eSoMean, eSoHigh, eSoLow);
const eCoDy = [1,7,15,21];
ratioCoTicks.forEach((t, i) => tickText(String(t), 771, e1.sy(t) + eCoDy[i], 'end', 'y-tick-label-e-co-' + t));
const eSoDy = [20,16,6,10];
ratioSoLabels.forEach((t, i) => tickText(String(t), 771, e2.sy(t) + eSoDy[i], 'end', 'y-tick-label-e-so2-' + t));
yearLabels.forEach(t => tickText(String(t), e2.sx(t) + 1, 1798, 'middle', 'x-tick-label-e-' + t));

/* ---------- maps ---------- */
function drawMap(name, rect, rows, originX, originY, stepX, stepY, traces, tx, ty) {
  const clip = makeClip(rect.L, rect.T, rect.R - rect.L, rect.B - rect.T);
  const bg = mk('rect', {x: rect.L, y: rect.T, width: rect.R - rect.L, height: rect.B - rect.T, fill: '#5a8fbd'});
  
  
  const cells = mk('g', {fill: '#ec474c', 'clip-path': 'url(#' + clip + ')', 'shape-rendering': 'crispEdges'});
  
  
  const gx = i => originX + i * stepX, gy = j => originY + j * stepY;
  rows.forEach((row, j) => {
    for (let i = 0; i < row.length; i++) {
      if (row[i] === '#') mk('rect', {x: gx(i), y: gy(j), width: stepX + .5, height: stepY + .5}, cells);
    }
  });
  const lines = mk('g', {fill: 'none', stroke: '#050505', 'stroke-width': 3.2, 'stroke-linejoin': 'round', 'stroke-linecap': 'round', 'clip-path': 'url(#' + clip + ')'});
  
  
  traces.forEach(tr => {
    let d = '';
    for (let k = 0; k + 1 < tr.length; k += 2) d += (k ? 'L' : 'M') + tx(tr[k]) + ' ' + ty(tr[k + 1]);
    mk('path', {d: d}, lines);
  });
}
const mapC = {L:1420,R:2020,T:90,B:930};
const mapF = {L:1420,R:2020,T:937,B:1777};
const cTraceX = o => 1300 + o / 2.044, cTraceY = o => 30 + o / 1.704;
const fTraceX = o => 1300 + o / 2.044, fTraceY = o => 930 + o / 1.656;
drawMap('map-beijing', mapC, cGridRows, 1392.9, 95.7, 29.94, 42, cBorderTraces, cTraceX, cTraceY);
drawMap('map-los-angeles', mapF, fGridRows, 1512.8, 1061, 29.94, 41.97, fBorderTraces, fTraceX, fTraceY);

const cTopDx = [1486,1732.5,1960.5];
cTopLabels.forEach((t, i) => tickText(t, cTopDx[i], 76, 'middle', 'map-c-lon-label-' + t, 'mk'));
const cLeftDy = [162,339,605,870];
cLeftLabels.forEach((t, i) => tickText(t, 1414, cLeftDy[i], 'end', 'map-c-lat-label-' + t, 'mk'));
const fLeftDy = [985,1274,1538,1736];
fLeftLabels.forEach((t, i) => tickText(t, 1415, fLeftDy[i], 'end', 'map-f-lat-label-' + t, 'mk'));
const fBottomDx = [1448,1730.5,1986];
fBottomLabels.forEach((t, i) => tickText(t, fBottomDx[i], 1820, 'middle', 'map-f-lon-label-' + t, 'mk'));
</script>
</body>
</html>
